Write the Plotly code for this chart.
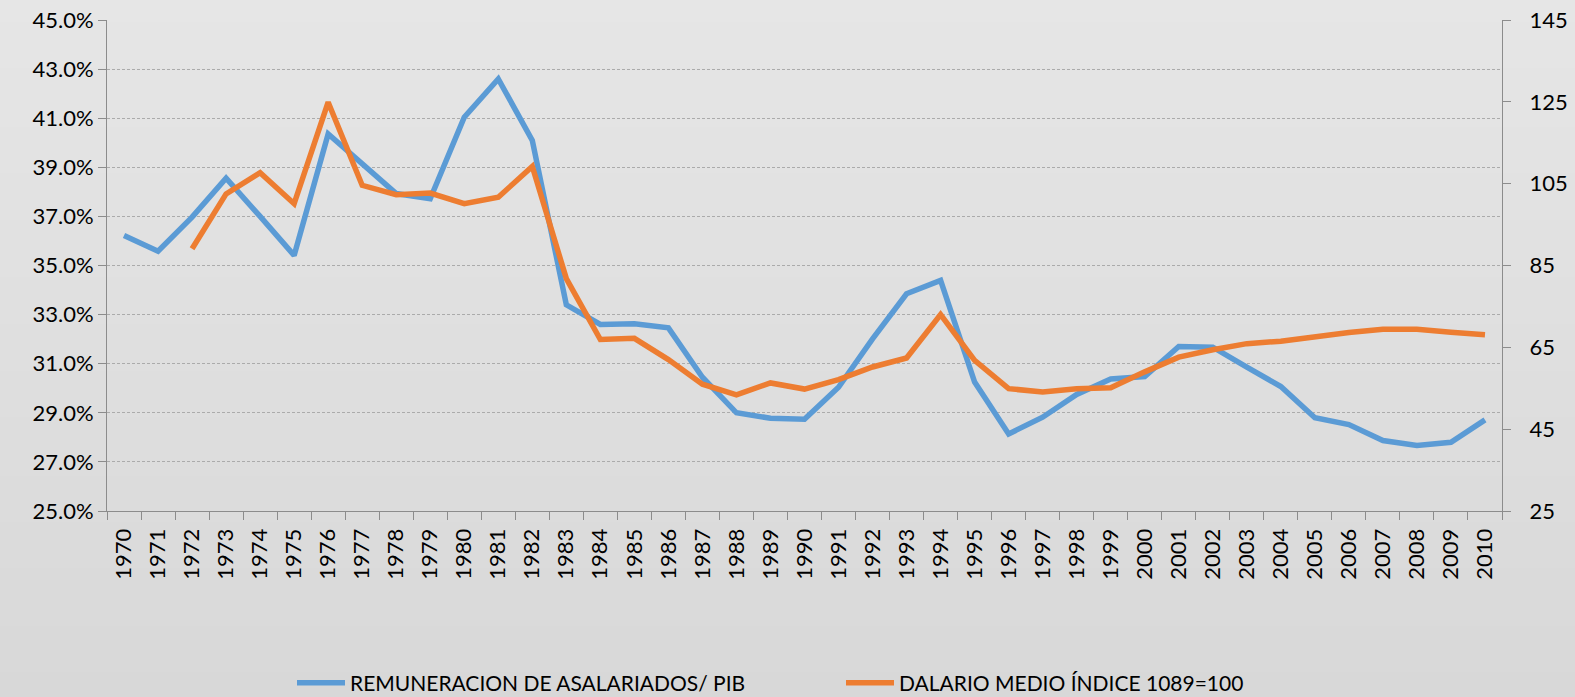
import plotly.graph_objects as go

# Years on the category axis
years = [str(y) for y in range(1970, 2011)]

# Compensation of employees as a share of GDP (left axis, fraction)
remuneracion_pib = [
    0.3622, 0.3558, 0.3697, 0.3856, 0.3700, 0.3541, 0.4036, 0.3915, 0.3793, 0.3772,
    0.4104, 0.4260, 0.4009, 0.3340, 0.3260, 0.3263, 0.3246, 0.3045, 0.2900, 0.2878,
    0.2874, 0.3004, 0.3201, 0.3385, 0.3439, 0.3025, 0.2814, 0.2882, 0.2975, 0.3038,
    0.3048, 0.3170, 0.3167, 0.3086, 0.3007, 0.2880, 0.2852, 0.2787, 0.2767, 0.2780,
    0.2871,
]

# Average wage index (right axis); no data for 1970-1971
salario_medio = [
    None, None, 89.1, 102.5, 107.7, 100.1, 124.9, 104.6, 102.3, 102.7,
    100.1, 101.7, 109.2, 81.8, 66.9, 67.2, 62.0, 56.0, 53.4, 56.3,
    54.8, 57.1, 60.2, 62.4, 73.0, 61.8, 54.9, 54.1, 54.9, 55.1,
    59.0, 62.6, 64.4, 65.9, 66.5, 67.7, 68.6, 69.4, 69.4, 68.7,
    68.1,
]

left_ticks = [0.25 + 0.02 * i for i in range(11)]
right_ticks = [25, 45, 65, 85, 105, 125, 145]

FONT = "Lato"
BLUE = "#5B9BD5"
ORANGE = "#ED7D31"
AXIS = "#8C8C8C"

W, H = 1575, 697
ML, MR, MT, MB = 107, 73, 20, 186

fig = go.Figure()

fig.add_trace(go.Scatter(
    x=years, y=remuneracion_pib, mode="lines",
    name="REMUNERACION DE ASALARIADOS/ PIB",
    line=dict(color=BLUE, width=5.5),
    yaxis="y",
))
fig.add_trace(go.Scatter(
    x=years, y=salario_medio, mode="lines",
    name="DALARIO MEDIO ÍNDICE 1089=100",
    line=dict(color=ORANGE, width=5.5),
    yaxis="y2",
    connectgaps=False,
))

# Vertical gray gradient behind the whole chart, built from thin bands
plot_w = W - ML - MR
plot_h = H - MT - MB
y_bottom = -MB / plot_h
y_top = 1 + MT / plot_h
n_bands = 60
top_rgb = (230, 230, 230)
bot_rgb = (216, 216, 216)
shapes = []
for i in range(n_bands):
    t0 = i / n_bands
    t1 = (i + 1) / n_bands
    tm = (t0 + t1) / 2
    c = [round(top_rgb[k] + (bot_rgb[k] - top_rgb[k]) * tm) for k in range(3)]
    y1 = y_top - (y_top - y_bottom) * t0
    y0 = y_top - (y_top - y_bottom) * t1
    if i == 0:
        y1 += 0.05
    if i == n_bands - 1:
        y0 -= 0.05
    shapes.append(dict(
        type="rect", xref="paper", yref="paper",
        x0=-ML / plot_w - 0.02, x1=1 + MR / plot_w + 0.02,
        y0=y0 - 0.002, y1=y1 + 0.002,
        fillcolor=f"rgb({c[0]},{c[1]},{c[2]})",
        line=dict(width=0), layer="below",
    ))

fig.update_layout(
    template="none",
    width=W, height=H,
    margin=dict(l=ML, r=MR, t=MT, b=MB, pad=0, autoexpand=False),
    paper_bgcolor="#dcdcdc",
    plot_bgcolor="rgba(0,0,0,0)",
    shapes=shapes,
    font=dict(family=FONT, size=22, color="#000000"),
    showlegend=True,
    legend=dict(
        orientation="h",
        x=(292 - ML) / plot_w, xanchor="left",
        y=-(683 - (H - MB)) / plot_h, yanchor="middle",
        font=dict(family=FONT, size=21, color="#000000"),
        bgcolor="rgba(0,0,0,0)",
        entrywidth=486,
        itemwidth=48,
    ),
    xaxis=dict(
        type="category",
        categoryorder="array", categoryarray=years,
        tickson="boundaries",
        ticks="outside", ticklen=8, tickcolor=AXIS, tickwidth=1,
        tickangle=-90,
        ticklabelstandoff=8,
        showline=True, linecolor=AXIS, linewidth=1,
        showgrid=False, zeroline=False,
        automargin=False,
        tickfont=dict(family=FONT, size=22),
        range=[-0.5, len(years) - 0.5],
    ),
    yaxis=dict(
        range=[0.25, 0.45],
        tickvals=left_ticks, tickformat=".1%",
        ticks="outside", ticklen=8, tickcolor=AXIS, tickwidth=1,
        showline=True, linecolor=AXIS, linewidth=1,
        showgrid=True, gridcolor="#ABABAB", gridwidth=1, griddash="3px,2px",
        zeroline=False,
        automargin=False,
        tickfont=dict(family=FONT, size=22),
    ),
    yaxis2=dict(
        range=[25, 145],
        tickvals=right_ticks,
        overlaying="y", side="right",
        ticks="outside", ticklen=8, tickcolor=AXIS, tickwidth=1,
        ticklabelstandoff=14,
        showline=True, linecolor=AXIS, linewidth=1,
        showgrid=False, zeroline=False,
        automargin=False,
        tickfont=dict(family=FONT, size=22),
    ),
)

fig.write_html("out.html")
